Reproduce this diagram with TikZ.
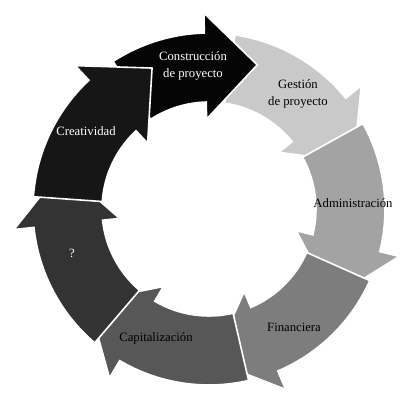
\documentclass[tikz,border=0pt]{standalone}
\usepackage{fontspec}
\setmainfont{Liberation Serif}
\definecolor{cConst}{HTML}{050505}
\definecolor{cGest}{HTML}{C9C9C9}
\definecolor{cAdmin}{HTML}{A3A3A3}
\definecolor{cFin}{HTML}{7D7D7D}
\definecolor{cCap}{HTML}{575757}
\definecolor{cQ}{HTML}{333333}
\definecolor{cCrea}{HTML}{161616}
\tikzset{
  seg/.style={draw=white, line width=1.6pt, line join=miter},
  lbl/.style={font=\fontsize{12.7}{16.5}\selectfont, align=center, inner sep=0pt},
}
% #1 tail angle, #2 head base angle, #3 tip angle
\newcommand{\ringarrow}[4]{%
  \path[seg, fill=#4] (#1:176) arc[start angle=#1, end angle=#2, radius=176]
    -- (#2:196) -- (#3:152) -- (#2:90) -- (#2:107)
    arc[start angle=#2, end angle=#1, radius=107] -- cycle;}
\begin{document}
\begin{tikzpicture}[x=1pt,y=1pt]
\useasboundingbox (0,0) rectangle (415,406);
\begin{scope}[shift={(209,197)}]
  \ringarrow{123}{91.5}{71.5}{cConst}
  \ringarrow{81.5}{39}{18}{cGest}
  \ringarrow{29}{-14}{-36}{cAdmin}
  \ringarrow{-24}{-67}{-88.5}{cFin}
  \ringarrow{-77}{-120.5}{-142.5}{cCap}
  \ringarrow{-130.5}{-174}{-195.5}{cQ}
  \ringarrow{176}{133}{112}{cCrea}
  \begin{scope}
    \clip (0,0) -- (100:230) arc[start angle=100, end angle=55, radius=230] -- cycle;
    \ringarrow{123}{91.5}{71.5}{cConst}
  \end{scope}
\end{scope}
\node[lbl, text=white] (const) at (193,340) {Construcción\\de proyecto};
\node[lbl] (gest) at (298,312) {Gestión\\de proyecto};
\node[lbl, text=white] (crea) at (86,275) {Creatividad};
\node[lbl] (admin) at (353,203) {Administración};
\node[lbl, text=white] (q) at (72,153) {?};
\node[lbl] (fin) at (294,79) {Financiera};
\node[lbl] (cap) at (156,68) {Capitalización};
\end{tikzpicture}
\end{document}
